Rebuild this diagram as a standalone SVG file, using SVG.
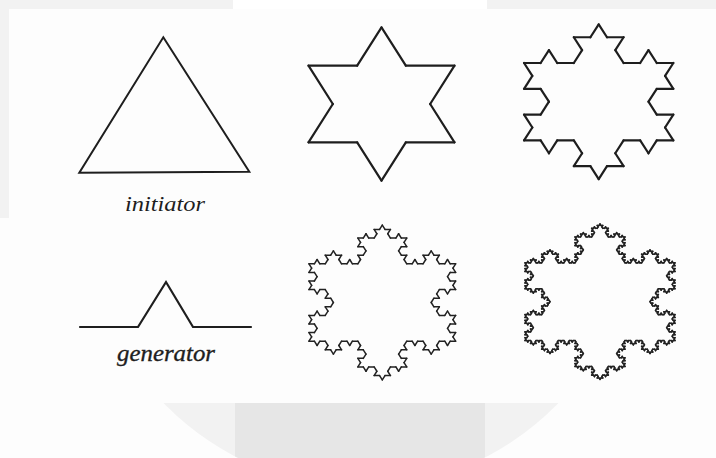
<svg xmlns="http://www.w3.org/2000/svg" width="716" height="458" viewBox="0 0 716 458">
<style>
.seg{fill:none;vector-effect:non-scaling-stroke;stroke-linecap:round}
.shape{fill:none;stroke:#1e1e1e;stroke-linejoin:miter;stroke-linecap:round}
.lbl{fill:#1e1e1e}
</style>
<defs>
<path id="k0" class="seg" d="M0 0H1"/>
<g id="k1">
<use href="#k0" transform="scale(0.33333333)"/>
<use href="#k0" transform="translate(0.33333333 0) rotate(-60) scale(0.33333333)"/>
<use href="#k0" transform="translate(0.5 -0.28867513) rotate(60) scale(0.33333333)"/>
<use href="#k0" transform="translate(0.66666667 0) scale(0.33333333)"/>
</g>
<g id="k2">
<use href="#k1" transform="scale(0.33333333)"/>
<use href="#k1" transform="translate(0.33333333 0) rotate(-60) scale(0.33333333)"/>
<use href="#k1" transform="translate(0.5 -0.28867513) rotate(60) scale(0.33333333)"/>
<use href="#k1" transform="translate(0.66666667 0) scale(0.33333333)"/>
</g>
<g id="k3">
<use href="#k2" transform="scale(0.33333333)"/>
<use href="#k2" transform="translate(0.33333333 0) rotate(-60) scale(0.33333333)"/>
<use href="#k2" transform="translate(0.5 -0.28867513) rotate(60) scale(0.33333333)"/>
<use href="#k2" transform="translate(0.66666667 0) scale(0.33333333)"/>
</g>
<g id="k4">
<use href="#k3" transform="scale(0.33333333)"/>
<use href="#k3" transform="translate(0.33333333 0) rotate(-60) scale(0.33333333)"/>
<use href="#k3" transform="translate(0.5 -0.28867513) rotate(60) scale(0.33333333)"/>
<use href="#k3" transform="translate(0.66666667 0) scale(0.33333333)"/>
</g>
<g id="s1">
<use href="#k1" transform="translate(0 -0.57735027) rotate(60)"/>
<use href="#k1" transform="translate(0.5 0.28867513) rotate(180)"/>
<use href="#k1" transform="translate(-0.5 0.28867513) rotate(-60)"/>
</g>
<g id="s2">
<use href="#k2" transform="translate(0 -0.57735027) rotate(60)"/>
<use href="#k2" transform="translate(0.5 0.28867513) rotate(180)"/>
<use href="#k2" transform="translate(-0.5 0.28867513) rotate(-60)"/>
</g>
<g id="s3">
<use href="#k3" transform="translate(0 -0.57735027) rotate(60)"/>
<use href="#k3" transform="translate(0.5 0.28867513) rotate(180)"/>
<use href="#k3" transform="translate(-0.5 0.28867513) rotate(-60)"/>
</g>
<g id="s4">
<use href="#k4" transform="translate(0 -0.57735027) rotate(60)"/>
<use href="#k4" transform="translate(0.5 0.28867513) rotate(180)"/>
<use href="#k4" transform="translate(-0.5 0.28867513) rotate(-60)"/>
</g>
<clipPath id="bottomClip"><rect x="0" y="403" width="716" height="55"/></clipPath>
<clipPath id="circClip"><circle cx="361" cy="213" r="274"/></clipPath>
</defs>

<g id="background">
<rect x="0" y="0" width="716" height="458" fill="#fdfdfd"/>
<rect x="0" y="0" width="233" height="9" fill="#f2f2f2"/>
<rect x="487" y="0" width="229" height="9" fill="#f2f2f2"/>
<rect x="233" y="0" width="254" height="9" fill="#ffffff"/>
<rect x="0" y="0" width="9" height="218" fill="#f2f2f2"/>
<g clip-path="url(#bottomClip)">
<circle cx="361" cy="213" r="274" fill="#f2f2f2"/>
<rect x="235" y="403" width="250" height="55" fill="#e6e6e6" clip-path="url(#circClip)"/>
</g>
</g>

<g id="initiator">
<polygon class="shape" stroke-width="2" points="163.3,37.3 249.3,171.7 79.3,172.7"/>
<text class="lbl" x="125" y="211" font-family="'Liberation Serif', 'Times New Roman', serif" font-style="italic" font-size="22" textLength="80" lengthAdjust="spacingAndGlyphs">initiator</text>
</g>

<g id="generator">
<polyline class="shape" stroke-width="2.2" points="80,327 138,327 166,282 193,327 251,327"/>
<text class="lbl" x="117" y="361" font-family="'Liberation Serif', 'Times New Roman', serif" font-style="italic" font-size="24" textLength="98" lengthAdjust="spacingAndGlyphs" stroke="#1e1e1e" stroke-width="0.35">generator</text>
</g>

<g id="koch-level1" stroke="#1e1e1e" stroke-width="2.2">
<use href="#s1" transform="translate(381.5 104) scale(146 132.8)"/>
</g>
<g id="koch-level2" stroke="#1e1e1e" stroke-width="2.2">
<use href="#s2" transform="translate(598.7 101.7) scale(149.3 134)"/>
</g>
<g id="koch-level3" stroke="#222" stroke-width="1.5">
<use href="#s3" transform="translate(382.3 302.5) scale(146.7 134)"/>
</g>
<g id="koch-level4" stroke="#222" stroke-width="1.6">
<use href="#s4" transform="translate(600 301.7) scale(150 134.6)"/>
</g>
</svg>
